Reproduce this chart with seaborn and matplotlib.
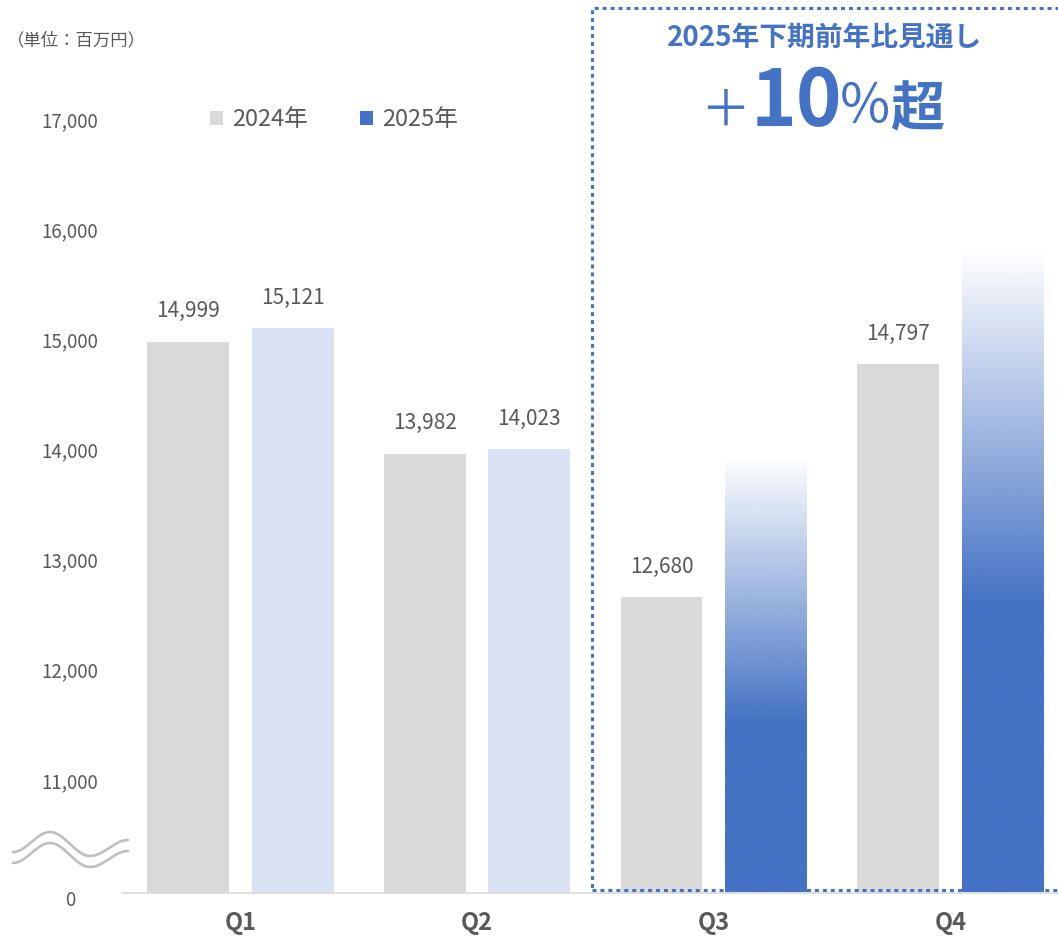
import numpy as np
import pandas as pd
import matplotlib
matplotlib.use("Agg")
import matplotlib.pyplot as plt
import matplotlib.transforms as mtransforms
from matplotlib.patches import Patch, Rectangle
from matplotlib.lines import Line2D
import seaborn as sns

# ---- data -------------------------------------------------------------
quarters = ["Q1", "Q2", "Q3", "Q4"]
years = ["2024年", "2025年"]
sales_2024 = [14999, 13982, 12680, 14797]
sales_2025 = [15121, 14023, 13950, 15820]   # Q3/Q4 2025 are the outlook
labels_2024 = ["14,999", "13,982", "12,680", "14,797"]
labels_2025 = ["15,121", "14,023", "", ""]
tick_values = [10000, 11000, 12000, 13000, 14000, 15000, 16000, 17000]
tick_labels = ["0", "11,000", "12,000", "13,000", "14,000", "15,000", "16,000", "17,000"]

# ---- style ------------------------------------------------------------
GRAY = "#D9D9D9"
BLUE = "#4472C4"
LIGHT_BLUE = "#DAE3F3"
TEXT = "#595959"
W, H = 1058, 939

sns.set_theme(style="white")
plt.rcParams["font.family"] = ["Noto Sans CJK JP", "DejaVu Sans"]

df = pd.DataFrame({
    "quarter": quarters * 2,
    "year": [years[0]] * 4 + [years[1]] * 4,
    "sales": sales_2024 + sales_2025,
})

fig = plt.figure(figsize=(W / 100, H / 100), dpi=100)
fig.patch.set_facecolor("white")

def fx(x):
    return x / W

def fy(y):
    return 1 - y / H

# axes: left edge at x=122, baseline at y=892, top at y=20
BASE = 892.5
ax = fig.add_axes([fx(122), fy(BASE), fx(W - 122), (BASE - 20) / H])

sns.barplot(data=df, x="quarter", y="sales", hue="year", hue_order=years,
            palette=[GRAY, BLUE], width=0.883, gap=0.216, saturation=1,
            linewidth=0, legend=False, ax=ax)

px_per_unit = 110.17 / 1000
ax.set_ylim(10000, 10000 + (BASE - 20) / px_per_unit)
ax.set_xlim(-0.5, -0.5 + 936 / 236.7)

# 2025 bars: light blue for actuals, fading blue for the outlook quarters
fade_start = [None, None, 0.39, 0.45]
rgb = np.array(matplotlib.colors.to_rgb(BLUE))
for i, patch in enumerate(ax.containers[1]):
    if fade_start[i] is None:
        patch.set_facecolor(LIGHT_BLUE)
        continue
    patch.set_facecolor("none")
    x0 = patch.get_x()
    w = patch.get_width()
    top = patch.get_height()
    n = 400
    f = np.linspace(0, 1, n)
    alpha = np.clip((1 - f) / (1 - fade_start[i]), 0, 1)
    img = np.zeros((n, 1, 4))
    img[:, 0, :3] = rgb
    img[:, 0, 3] = alpha
    ax.imshow(img, extent=[x0, x0 + w, ax.get_ylim()[0], top], origin="lower",
              aspect="auto", interpolation="bilinear", zorder=3)

ax.bar_label(ax.containers[0], labels=labels_2024, padding=14, fontsize=15, color=TEXT)
ax.bar_label(ax.containers[1], labels=labels_2025, padding=14, fontsize=15, color=TEXT)

# y axis: centred labels, no spine
ax.set_yticks(tick_values)
ax.set_yticklabels(tick_labels)
ax.tick_params(axis="y", length=0, pad=37.4, labelsize=13.5, labelcolor=TEXT)
for k, t in enumerate(ax.get_yticklabels()):
    t.set_horizontalalignment("center")
    dy = -5.5 if k == 0 else 2.5
    t.set_transform(t.get_transform() +
                    mtransforms.ScaledTranslation(0, dy / 100, fig.dpi_scale_trans))

ax.tick_params(axis="x", length=0, pad=13, labelsize=17, labelcolor=TEXT)
for t in ax.get_xticklabels():
    t.set_fontweight("bold")
ax.set_xlabel("")
ax.set_ylabel("")
for s in ["top", "right", "left"]:
    ax.spines[s].set_visible(False)
ax.spines["bottom"].set_color(GRAY)
ax.spines["bottom"].set_linewidth(1.2)

# axis break mark
xs = np.linspace(13, 128, 200)
def wave(x):
    pts_x = [13, 50, 90, 128]
    pts_y = [852, 832, 856, 840]
    y = np.empty_like(x)
    for k in range(3):
        m = (x >= pts_x[k]) & (x <= pts_x[k + 1])
        t = (x[m] - pts_x[k]) / (pts_x[k + 1] - pts_x[k])
        e = (1 - np.cos(np.pi * t)) / 2
        y[m] = pts_y[k] + (pts_y[k + 1] - pts_y[k]) * e
    return y
for off in (0, 11):
    fig.add_artist(Line2D(fx(xs), fy(wave(xs) + off), color="#BFBFBF", lw=1.9,
                          transform=fig.transFigure, solid_capstyle="round"))

# unit note
fig.text(fx(7), fy(40), "（単位：百万円）", ha="left", va="center", fontsize=12.5, color=TEXT)

# legend
handles = [Patch(facecolor=GRAY, edgecolor="none"), Patch(facecolor=BLUE, edgecolor="none")]
fig.legend(handles, years, loc="center left", bbox_to_anchor=(fx(210), fy(120)),
           ncol=2, frameon=False, fontsize=17, labelcolor=TEXT, handlelength=0.55,
           handleheight=0.55, handletextpad=0.4, columnspacing=2.2, borderpad=0,
           borderaxespad=0)

# dotted highlight box around the second half
box = Rectangle((fx(592), fy(890)), fx(1075 - 592), (890 - 8) / H,
                transform=fig.transFigure, fill=False, edgecolor=BLUE,
                lw=2.2, linestyle=(0, (1.3, 1.3)), clip_on=False)
box.set_capstyle("butt")
fig.add_artist(box)

fig.text(fx(825), fy(38), "2025年下期前年比見通し", ha="center", va="center",
         fontsize=20, fontweight="bold", color=BLUE)
base = fy(126)
fig.text(fx(725), base, "＋", ha="center", va="baseline", fontsize=36, color=BLUE)
fig.text(fx(796), base, "10", ha="center", va="baseline", fontsize=56,
         fontweight="bold", color=BLUE)
fig.text(fx(865), fy(123), "％", ha="center", va="baseline", fontsize=39, color=BLUE)
fig.text(fx(917), base, "超", ha="center", va="baseline", fontsize=39,
         fontweight="bold", color=BLUE)

fig.savefig("out.png", dpi=100, facecolor="white")
